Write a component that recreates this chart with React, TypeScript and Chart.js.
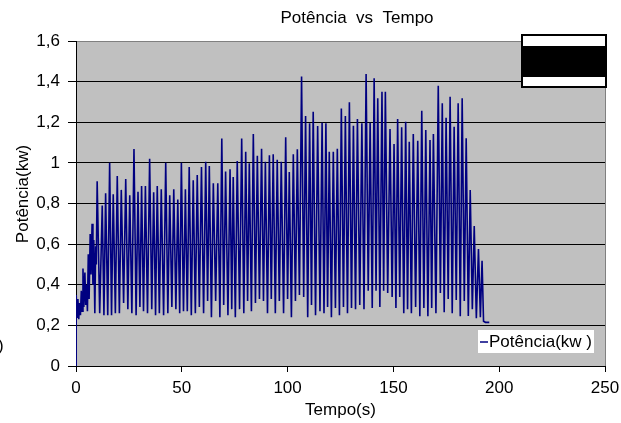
import React, { useEffect, useRef } from "react";
import { Chart, registerables } from "chart.js";

Chart.register(...registerables);

const titulo = "Potência  vs  Tempo";
const tituloX = "Tempo(s)";
const tituloY = "Potência(kw)";
const legendaTexto = "Potência(kw )";

const xTicks = [0, 50, 100, 150, 200, 250];
const yTicks = [0, 0.2, 0.4, 0.6, 0.8, 1.0, 1.2, 1.4, 1.6];

// start-up transient
const tempoInicio = [0, 0.1, 0.5, 0.9, 1.3, 1.7, 2.1, 2.5, 2.9, 3.3, 3.7, 4.2, 4.6, 5.0, 5.4, 5.8, 6.2, 6.7, 7.1, 7.6, 8.0, 8.4, 8.9, 9.3, 9.6];
const potenciaInicio = [0, 0.35, 0.24, 0.33, 0.23, 0.31, 0.25, 0.37, 0.27, 0.48, 0.29, 0.46, 0.30, 0.40, 0.27, 0.55, 0.33, 0.65, 0.45, 0.70, 0.40, 0.62, 0.26, 0.59, 0.50];

// cycle peaks
const picoTempo = [
  10.0, 12.4, 14.0, 15.9, 17.6, 19.5, 21.4, 23.5, 25.4, 27.4,
  29.3, 31.0, 32.8, 34.8, 36.7, 38.4, 40.3, 42.4, 44.3, 46.2,
  48.1, 49.8, 51.7, 53.5, 55.4, 57.3, 59.3, 61.3, 63.0, 64.9,
  67.0, 68.9, 70.7, 72.8, 74.3, 76.2, 78.3, 80.2, 81.9, 83.8,
  85.7, 87.7, 89.5, 91.4, 93.2, 95.1, 97.0, 99.1, 100.8, 102.7,
  104.6, 106.6, 108.5, 110.4, 112.1, 114.2, 116.3, 118.1, 119.7, 121.6,
  123.5, 125.4, 127.3, 129.2, 131.1, 133.0, 135.1, 137.1, 139.0, 140.9,
  142.6, 144.6, 146.2, 148.4, 150.3, 152.0, 153.9, 155.8, 157.5, 159.4,
  161.5, 163.4, 165.3, 167.3, 168.9, 171.2, 173.1, 174.9, 176.8, 178.7,
  180.6, 182.5, 184.4, 186.3, 188.2, 190.2, 191.9,
];
const picoPotencia = [
  0.91, 0.79, 0.85, 1.0, 0.845, 0.935, 0.867, 0.92, 0.84, 1.068,
  0.858, 0.886, 0.886, 1.02, 0.855, 0.886, 0.87, 1.0, 0.84, 0.87,
  0.82, 1.0, 0.87, 0.98, 0.915, 0.94, 0.98, 1.006, 0.985, 0.9,
  0.9, 1.12, 0.957, 0.968, 0.93, 1.009, 1.12, 1.055, 0.998, 1.142,
  1.035, 1.07, 1.006, 1.037, 1.042, 1.015, 1.006, 1.126, 0.955, 1.043,
  1.067, 1.425, 1.231, 1.195, 1.252, 1.182, 1.198, 1.195, 1.055, 1.055,
  1.07, 1.268, 1.231, 1.298, 1.183, 1.216, 1.195, 1.438, 1.198, 1.416,
  1.318, 1.35, 1.35, 1.167, 1.093, 1.216, 1.175, 1.203, 1.104, 1.142,
  1.109, 1.257, 1.162, 1.113, 1.142, 1.38, 1.293, 1.222, 1.326, 1.178,
  1.293, 1.318, 1.121, 0.867, 0.689, 0.576, 0.518,
];

// cycle valleys
const valeTempo = [
  11.2, 13.2, 15.0, 16.8, 18.6, 20.5, 22.5, 24.5, 26.4, 28.4,
  30.2, 31.9, 33.8, 35.8, 37.6, 39.4, 41.4, 43.4, 45.3, 47.2,
  49.0, 50.8, 52.6, 54.5, 56.4, 58.3, 60.3, 62.2, 64.0, 66.0,
  68.0, 69.8, 71.8, 73.6, 75.3, 77.3, 79.3, 81.1, 82.9, 84.8,
  86.7, 88.6, 90.5, 92.3, 94.2, 96.1, 98.1, 100.0, 101.8, 103.7,
  105.6, 107.6, 109.5, 111.3, 113.2, 115.3, 117.2, 118.9, 120.7, 122.6,
  124.5, 126.4, 128.3, 130.2, 132.1, 134.1, 136.1, 138.1, 140.0, 141.8,
  143.6, 145.4, 147.3, 149.4, 151.2, 153.0, 154.9, 156.7, 158.5, 160.5,
  162.5, 164.4, 166.3, 168.1, 170.1, 172.2, 174.0, 175.9, 177.8, 179.7,
  181.6, 183.5, 185.4, 187.3, 189.2, 191.1,
];
const valePotencia = [
  0.26, 0.25, 0.25, 0.25, 0.26, 0.26, 0.31, 0.28, 0.26, 0.25,
  0.29, 0.27, 0.26, 0.28, 0.25, 0.26, 0.25, 0.26, 0.29, 0.28,
  0.26, 0.27, 0.27, 0.25, 0.26, 0.29, 0.26, 0.32, 0.24, 0.32,
  0.24, 0.3, 0.25, 0.28, 0.24, 0.28, 0.26, 0.32, 0.27, 0.31,
  0.33, 0.32, 0.26, 0.33, 0.26, 0.32, 0.26, 0.33, 0.24, 0.32,
  0.35, 0.34, 0.24, 0.3, 0.25, 0.27, 0.26, 0.29, 0.24, 0.285,
  0.25, 0.29, 0.26, 0.285, 0.28, 0.3, 0.28, 0.37, 0.285, 0.37,
  0.29, 0.37, 0.36, 0.34, 0.285, 0.34, 0.26, 0.28, 0.26, 0.29,
  0.245, 0.285, 0.245, 0.285, 0.26, 0.36, 0.265, 0.33, 0.26, 0.325,
  0.245, 0.32, 0.246, 0.28, 0.235, 0.24,
];

// shutdown tail
const tempoFim = [192.6, 193.5, 195.3];
const potenciaFim = [0.22, 0.215, 0.215];

const pares = (t: number[], v: number[]) => t.map((x, i) => ({ x, y: v[i] }));

const FONT = "'Liberation Sans', Arial, sans-serif";
const FS = 17;

const decoracoes = {
  id: "decoracoes",
  beforeDraw(chart: any) {
    const { ctx, chartArea } = chart;
    ctx.save();
    ctx.fillStyle = "#ffffff";
    ctx.fillRect(0, 0, chart.width, chart.height);
    ctx.fillStyle = "#c0c0c0";
    ctx.fillRect(chartArea.left, chartArea.top, chartArea.right - chartArea.left, chartArea.bottom - chartArea.top);
    ctx.restore();
  },
  afterDraw(chart: any) {
    const { ctx, chartArea } = chart;
    ctx.save();
    // right border of plot area
    ctx.strokeStyle = "#808080";
    ctx.lineWidth = 1;
    ctx.beginPath();
    ctx.moveTo(chartArea.right + 0.5, chartArea.top);
    ctx.lineTo(chartArea.right + 0.5, chartArea.bottom);
    ctx.stroke();

    ctx.fillStyle = "#000";
    ctx.font = `${FS}px ${FONT}`;

    // chart title
    ctx.textAlign = "center";
    ctx.textBaseline = "alphabetic";
    ctx.fillText(titulo, 357, 22.5);

    // y axis title
    ctx.textBaseline = "middle";
    ctx.translate(23.5, 194);
    ctx.rotate(-Math.PI / 2);
    ctx.fillText(tituloY, 0, 0);
    ctx.setTransform(1, 0, 0, 1, 0, 0);

    // stray clipped label at left edge
    ctx.textAlign = "left";
    ctx.textBaseline = "middle";
    ctx.fillText(")", -2, 346);

    // top-right box
    ctx.fillStyle = "#fff";
    ctx.fillRect(522, 35, 84, 52);
    ctx.fillStyle = "#000";
    ctx.fillRect(522, 46, 84, 31);
    ctx.strokeStyle = "#000";
    ctx.lineWidth = 2;
    ctx.strokeRect(522, 35, 84, 52);

    // bottom-right legend
    ctx.fillStyle = "#fff";
    ctx.fillRect(478, 330, 116, 23);
    ctx.strokeStyle = "#000080";
    ctx.lineWidth = 1.5;
    ctx.beginPath();
    ctx.moveTo(480, 342);
    ctx.lineTo(488, 342);
    ctx.stroke();
    ctx.fillStyle = "#000";
    ctx.textAlign = "left";
    ctx.textBaseline = "middle";
    ctx.fillText(legendaTexto, 489, 342);
    ctx.restore();
  },
};

export default function App() {
  const ref = useRef<HTMLCanvasElement | null>(null);
  useEffect(() => {
    if (!ref.current) return;
    Chart.defaults.font.family = FONT;
    Chart.defaults.font.size = FS;
    Chart.defaults.color = "#000";
    const dados = [
      ...pares(tempoInicio, potenciaInicio),
      ...pares(picoTempo, picoPotencia),
      ...pares(valeTempo, valePotencia),
      ...pares(tempoFim, potenciaFim),
    ].sort((a, b) => a.x - b.x);

    const chart = new Chart(ref.current, {
      type: "line",
      data: {
        datasets: [
          {
            label: legendaTexto,
            data: dados,
            borderColor: "#000080",
            borderWidth: 1.6,
            pointRadius: 0,
            tension: 0,
            fill: false,
          },
        ],
      },
      options: {
        animation: false,
        responsive: false,
        layout: { padding: { left: 0, right: 16, top: 41, bottom: 0 } },
        plugins: {
          legend: { display: false },
          tooltip: { enabled: false },
          title: { display: false },
        },
        scales: {
          x: {
            type: "linear",
            min: 0,
            max: 250,
            afterBuildTicks: (s: any) => {
              s.ticks = xTicks.map((v) => ({ value: v }));
            },
            afterFit: (s: any) => {
              s.height = 57;
              s.paddingRight = 0;
              s.paddingLeft = 0;
            },
            ticks: { padding: 6, color: "#000", font: { size: FS }, maxRotation: 0 },
            grid: { drawOnChartArea: false, drawTicks: true, tickLength: 6, color: "#000", tickColor: "#000" },
            border: { display: true, color: "#000", width: 1 },
            title: { display: true, text: tituloX, font: { size: FS }, padding: { top: 0, bottom: 2 }, color: "#000" },
          },
          y: {
            min: 0,
            max: 1.6,
            afterBuildTicks: (s: any) => {
              s.ticks = yTicks.map((v) => ({ value: v }));
            },
            afterFit: (s: any) => {
              s.width = 76;
            },
            ticks: {
              padding: 8,
              color: "#000",
              font: { size: FS },
              callback: (v: any) => String(Number(Number(v).toFixed(1))).replace(".", ","),
            },
            grid: {
              color: (c: any) => (c.tick && Math.abs(c.tick.value - 1.6) < 1e-6 ? "#808080" : "#000"),
              tickColor: "#000",
              tickLength: 8,
              lineWidth: 1,
            },
            border: { display: true, color: "#000", width: 1 },
          },
        },
      },
      plugins: [decoracoes],
    });
    return () => chart.destroy();
  }, []);
  return (
    <div style={{ position: "fixed", left: 0, top: 0, width: 621, height: 423 }}>
      <canvas ref={ref} width={621} height={423} style={{ width: 621, height: 423, display: "block" }} />
    </div>
  );
}
